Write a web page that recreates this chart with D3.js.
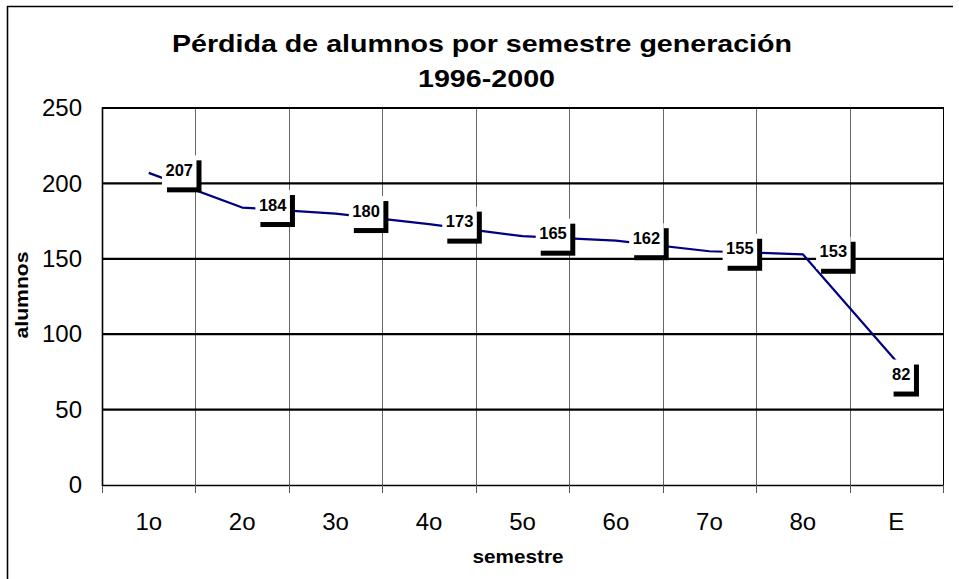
<!DOCTYPE html>
<html>
<head>
<meta charset="utf-8">
<script src="https://cdn.jsdelivr.net/npm/d3@7"></script>
<style>
  html, body { margin: 0; padding: 0; background: #fff; }
  svg { display: block; }
  text { font-family: "Liberation Sans", Arial, Helvetica, sans-serif; fill: #000; }
</style>
</head>
<body>
<svg id="chart" width="959" height="579"></svg>
<script>
// ---- data ----
const categories = ["1o", "2o", "3o", "4o", "5o", "6o", "7o", "8o", "E"];
const values = [207, 184, 180, 173, 165, 162, 155, 153, 82];
const yTicks = [0, 50, 100, 150, 200, 250];
const titleLines = ["Pérdida de alumnos por semestre generación", "1996-2000"];
const xTitle = "semestre";
const yTitle = "alumnos";

// ---- layout ----
const W = 959, H = 579;
const plot = { left: 102, right: 943, top: 108, bottom: 485 };
const svg = d3.select("#chart");

const x = d3.scaleBand().domain(categories).range([plot.left, plot.right]);
const y = d3.scaleLinear().domain([0, 250]).range([plot.bottom, plot.top]);
const cx = c => x(c) + x.bandwidth() / 2;

// outer chart border (top + left only visible)
svg.append("line").attr("x1", 7).attr("y1", 6.5).attr("x2", 953).attr("y2", 6.5)
  .attr("stroke", "#000").attr("stroke-width", 1.6);
svg.append("line").attr("x1", 7.5).attr("y1", 6).attr("x2", 7.5).attr("y2", H)
  .attr("stroke", "#000").attr("stroke-width", 1.6);

// title
svg.append("text").attr("x", 482).attr("y", 52)
  .attr("text-anchor", "middle").attr("font-size", 24.5).attr("font-weight", "bold")
  .attr("textLength", 620).attr("lengthAdjust", "spacingAndGlyphs").text(titleLines[0]);
svg.append("text").attr("x", 486.5).attr("y", 87)
  .attr("text-anchor", "middle").attr("font-size", 24.5).attr("font-weight", "bold")
  .attr("textLength", 137).attr("lengthAdjust", "spacingAndGlyphs").text(titleLines[1]);

// vertical gridlines at category boundaries
const boundaries = categories.slice(1).map(c => x(c));
svg.append("g").selectAll("line").data(boundaries).join("line")
  .attr("x1", d => Math.round(d) + 0.5).attr("x2", d => Math.round(d) + 0.5)
  .attr("y1", plot.top).attr("y2", plot.bottom)
  .attr("stroke", "#666").attr("stroke-width", 1);
// right border of plot
svg.append("line").attr("x1", plot.right + 0.5).attr("x2", plot.right + 0.5)
  .attr("y1", plot.top).attr("y2", plot.bottom).attr("stroke", "#000").attr("stroke-width", 1);

// horizontal gridlines
svg.append("g").selectAll("line").data(yTicks.filter(v => v > 0)).join("line")
  .attr("x1", plot.left).attr("x2", plot.right + 1)
  .attr("y1", d => y(d)).attr("y2", d => y(d))
  .attr("stroke", "#000").attr("stroke-width", 2.2);

// x axis line and tick marks at boundaries
svg.append("line").attr("x1", plot.left).attr("x2", plot.right + 1)
  .attr("y1", plot.bottom + 0.5).attr("y2", plot.bottom + 0.5)
  .attr("stroke", "#000").attr("stroke-width", 1.4);
const tickPos = [plot.left].concat(boundaries).concat([plot.right]);
svg.append("g").selectAll("line").data(tickPos).join("line")
  .attr("x1", d => Math.round(d) + 0.5).attr("x2", d => Math.round(d) + 0.5)
  .attr("y1", plot.bottom).attr("y2", plot.bottom + 8)
  .attr("stroke", "#555").attr("stroke-width", 1);

// y axis line
svg.append("line").attr("x1", plot.left + 0.5).attr("x2", plot.left + 0.5)
  .attr("y1", plot.top - 1).attr("y2", plot.bottom + 1)
  .attr("stroke", "#000").attr("stroke-width", 1.6);

// y axis labels
const yAxis = svg.append("g").attr("transform", `translate(${plot.left},0)`)
  .call(d3.axisLeft(y).tickValues(yTicks).tickSize(0).tickPadding(20));
yAxis.select(".domain").remove();
yAxis.selectAll("text").attr("font-size", 24).attr("font-family", null).attr("fill", "#000");

// x axis labels
const xAxis = svg.append("g").attr("transform", `translate(0,${plot.bottom})`)
  .call(d3.axisBottom(x).tickSize(0).tickPadding(28));
xAxis.select(".domain").remove();
xAxis.selectAll("text").attr("font-size", 24).attr("font-family", null).attr("fill", "#000");

// axis titles
svg.append("text").attr("x", 518).attr("y", 563).attr("text-anchor", "middle")
  .attr("font-size", 19).attr("font-weight", "bold")
  .attr("textLength", 91).attr("lengthAdjust", "spacingAndGlyphs").text(xTitle);
svg.append("text").attr("transform", "translate(27.5,295) rotate(-90)")
  .attr("text-anchor", "middle").attr("font-size", 19).attr("font-weight", "bold")
  .attr("textLength", 87).attr("lengthAdjust", "spacingAndGlyphs").text(yTitle);

// data line
const line = d3.line().x((d, i) => cx(categories[i])).y(d => y(d));
svg.append("path").datum(values).attr("d", line)
  .attr("fill", "none").attr("stroke", "#000080").attr("stroke-width", 2.2)
  .attr("stroke-linejoin", "round");

// data labels with shadow boxes
const lg = svg.append("g");
values.forEach((v, i) => {
  const px = cx(categories[i]), py = y(v);
  const below = i === values.length - 1;
  const tx = below ? px + 5 : px + 30.5;
  const ty = below ? py + 18.7 : py + 3;
  const g = lg.append("g");
  const shadow = g.append("rect");
  const box = g.append("rect");
  const t = g.append("text").attr("x", tx).attr("y", ty).attr("text-anchor", "middle")
    .attr("font-size", 16.5).attr("font-weight", "bold").text(v);
  const tw = t.node().getComputedTextLength();
  const bw = tw + 7, bh = 32;
  const bx = tx - bw / 2, by = ty - 20.5;
  shadow.attr("x", bx + 5).attr("y", by + 5).attr("width", bw).attr("height", bh).attr("fill", "#000");
  box.attr("x", bx).attr("y", by).attr("width", bw).attr("height", bh).attr("fill", "#fff");
});
</script>
</body>
</html>
